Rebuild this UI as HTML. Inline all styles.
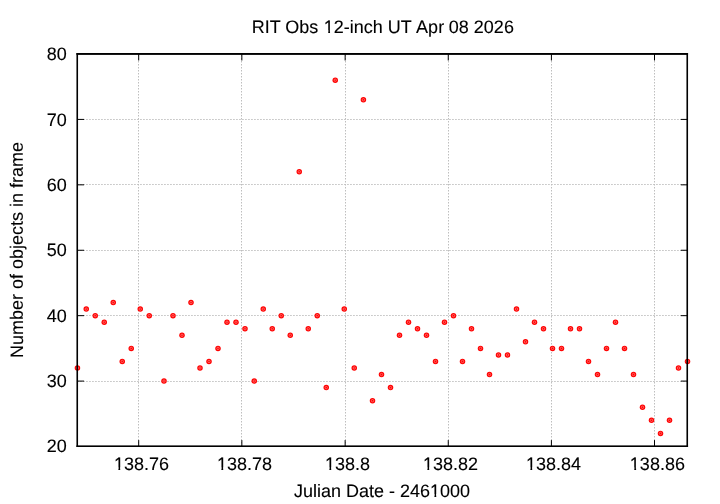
<!DOCTYPE html>
<html><head><meta charset="utf-8"><title>plot</title>
<style>html,body{margin:0;padding:0;background:#fff;}svg{display:block;will-change:transform;}text{font-family:"Liberation Sans",sans-serif;fill:#000;}</style></head><body>
<svg width="720" height="504" viewBox="0 0 720 504">
<rect x="0" y="0" width="720" height="504" fill="#fff"/>
<g stroke="#bebebe" stroke-width="1" stroke-dasharray="1.5 1.5" fill="none">
<line x1="138.50" y1="446.5" x2="138.50" y2="54.00"/>
<line x1="241.50" y1="446.5" x2="241.50" y2="54.00"/>
<line x1="345.50" y1="446.5" x2="345.50" y2="54.00"/>
<line x1="448.50" y1="446.5" x2="448.50" y2="54.00"/>
<line x1="551.50" y1="446.5" x2="551.50" y2="54.00"/>
<line x1="654.50" y1="446.5" x2="654.50" y2="54.00"/>
<line x1="77.2" y1="381.50" x2="687.25" y2="381.50"/>
<line x1="77.2" y1="315.50" x2="687.25" y2="315.50"/>
<line x1="77.2" y1="250.50" x2="687.25" y2="250.50"/>
<line x1="77.2" y1="184.50" x2="687.25" y2="184.50"/>
<line x1="77.2" y1="119.50" x2="687.25" y2="119.50"/>
</g>
<g fill="#ff0000">
<circle cx="77.45" cy="368.00" r="2.75"/>
<circle cx="86.25" cy="309.12" r="2.75"/>
<circle cx="95.25" cy="315.67" r="2.75"/>
<circle cx="104.25" cy="322.21" r="2.75"/>
<circle cx="113.25" cy="302.58" r="2.75"/>
<circle cx="122.25" cy="361.46" r="2.75"/>
<circle cx="131.25" cy="348.38" r="2.75"/>
<circle cx="140.25" cy="309.12" r="2.75"/>
<circle cx="149.25" cy="315.67" r="2.75"/>
<circle cx="164.00" cy="381.08" r="2.75"/>
<circle cx="173.00" cy="315.67" r="2.75"/>
<circle cx="182.00" cy="335.29" r="2.75"/>
<circle cx="191.00" cy="302.58" r="2.75"/>
<circle cx="200.00" cy="368.00" r="2.75"/>
<circle cx="209.00" cy="361.46" r="2.75"/>
<circle cx="218.00" cy="348.38" r="2.75"/>
<circle cx="227.00" cy="322.21" r="2.75"/>
<circle cx="236.00" cy="322.21" r="2.75"/>
<circle cx="245.00" cy="328.75" r="2.75"/>
<circle cx="254.25" cy="381.08" r="2.75"/>
<circle cx="263.25" cy="309.12" r="2.75"/>
<circle cx="272.25" cy="328.75" r="2.75"/>
<circle cx="281.25" cy="315.67" r="2.75"/>
<circle cx="290.25" cy="335.29" r="2.75"/>
<circle cx="299.25" cy="171.75" r="2.75"/>
<circle cx="308.25" cy="328.75" r="2.75"/>
<circle cx="317.25" cy="315.67" r="2.75"/>
<circle cx="326.25" cy="387.62" r="2.75"/>
<circle cx="335.25" cy="80.17" r="2.75"/>
<circle cx="344.25" cy="309.12" r="2.75"/>
<circle cx="354.25" cy="368.00" r="2.75"/>
<circle cx="363.40" cy="99.79" r="2.75"/>
<circle cx="372.50" cy="400.71" r="2.75"/>
<circle cx="381.50" cy="374.54" r="2.75"/>
<circle cx="390.50" cy="387.62" r="2.75"/>
<circle cx="399.50" cy="335.29" r="2.75"/>
<circle cx="408.50" cy="322.21" r="2.75"/>
<circle cx="417.50" cy="328.75" r="2.75"/>
<circle cx="426.50" cy="335.29" r="2.75"/>
<circle cx="435.50" cy="361.46" r="2.75"/>
<circle cx="444.50" cy="322.21" r="2.75"/>
<circle cx="453.50" cy="315.67" r="2.75"/>
<circle cx="462.50" cy="361.46" r="2.75"/>
<circle cx="471.50" cy="328.75" r="2.75"/>
<circle cx="480.50" cy="348.38" r="2.75"/>
<circle cx="489.50" cy="374.54" r="2.75"/>
<circle cx="498.50" cy="354.92" r="2.75"/>
<circle cx="507.50" cy="354.92" r="2.75"/>
<circle cx="516.50" cy="309.12" r="2.75"/>
<circle cx="525.50" cy="341.83" r="2.75"/>
<circle cx="534.50" cy="322.21" r="2.75"/>
<circle cx="543.50" cy="328.75" r="2.75"/>
<circle cx="552.50" cy="348.38" r="2.75"/>
<circle cx="561.50" cy="348.38" r="2.75"/>
<circle cx="570.50" cy="328.75" r="2.75"/>
<circle cx="579.50" cy="328.75" r="2.75"/>
<circle cx="588.50" cy="361.46" r="2.75"/>
<circle cx="597.50" cy="374.54" r="2.75"/>
<circle cx="606.50" cy="348.38" r="2.75"/>
<circle cx="615.50" cy="322.21" r="2.75"/>
<circle cx="624.50" cy="348.38" r="2.75"/>
<circle cx="633.50" cy="374.54" r="2.75"/>
<circle cx="642.50" cy="407.25" r="2.75"/>
<circle cx="651.50" cy="420.33" r="2.75"/>
<circle cx="660.50" cy="433.42" r="2.75"/>
<circle cx="669.50" cy="420.33" r="2.75"/>
<circle cx="678.50" cy="368.00" r="2.75"/>
<circle cx="687.50" cy="361.46" r="2.75"/>
</g>
<g fill="none" stroke="#ff9696" stroke-width="0.6">
<circle cx="77.45" cy="368.00" r="1.2"/>
<circle cx="86.25" cy="309.12" r="1.2"/>
<circle cx="95.25" cy="315.67" r="1.2"/>
<circle cx="104.25" cy="322.21" r="1.2"/>
<circle cx="113.25" cy="302.58" r="1.2"/>
<circle cx="122.25" cy="361.46" r="1.2"/>
<circle cx="131.25" cy="348.38" r="1.2"/>
<circle cx="140.25" cy="309.12" r="1.2"/>
<circle cx="149.25" cy="315.67" r="1.2"/>
<circle cx="164.00" cy="381.08" r="1.2"/>
<circle cx="173.00" cy="315.67" r="1.2"/>
<circle cx="182.00" cy="335.29" r="1.2"/>
<circle cx="191.00" cy="302.58" r="1.2"/>
<circle cx="200.00" cy="368.00" r="1.2"/>
<circle cx="209.00" cy="361.46" r="1.2"/>
<circle cx="218.00" cy="348.38" r="1.2"/>
<circle cx="227.00" cy="322.21" r="1.2"/>
<circle cx="236.00" cy="322.21" r="1.2"/>
<circle cx="245.00" cy="328.75" r="1.2"/>
<circle cx="254.25" cy="381.08" r="1.2"/>
<circle cx="263.25" cy="309.12" r="1.2"/>
<circle cx="272.25" cy="328.75" r="1.2"/>
<circle cx="281.25" cy="315.67" r="1.2"/>
<circle cx="290.25" cy="335.29" r="1.2"/>
<circle cx="299.25" cy="171.75" r="1.2"/>
<circle cx="308.25" cy="328.75" r="1.2"/>
<circle cx="317.25" cy="315.67" r="1.2"/>
<circle cx="326.25" cy="387.62" r="1.2"/>
<circle cx="335.25" cy="80.17" r="1.2"/>
<circle cx="344.25" cy="309.12" r="1.2"/>
<circle cx="354.25" cy="368.00" r="1.2"/>
<circle cx="363.40" cy="99.79" r="1.2"/>
<circle cx="372.50" cy="400.71" r="1.2"/>
<circle cx="381.50" cy="374.54" r="1.2"/>
<circle cx="390.50" cy="387.62" r="1.2"/>
<circle cx="399.50" cy="335.29" r="1.2"/>
<circle cx="408.50" cy="322.21" r="1.2"/>
<circle cx="417.50" cy="328.75" r="1.2"/>
<circle cx="426.50" cy="335.29" r="1.2"/>
<circle cx="435.50" cy="361.46" r="1.2"/>
<circle cx="444.50" cy="322.21" r="1.2"/>
<circle cx="453.50" cy="315.67" r="1.2"/>
<circle cx="462.50" cy="361.46" r="1.2"/>
<circle cx="471.50" cy="328.75" r="1.2"/>
<circle cx="480.50" cy="348.38" r="1.2"/>
<circle cx="489.50" cy="374.54" r="1.2"/>
<circle cx="498.50" cy="354.92" r="1.2"/>
<circle cx="507.50" cy="354.92" r="1.2"/>
<circle cx="516.50" cy="309.12" r="1.2"/>
<circle cx="525.50" cy="341.83" r="1.2"/>
<circle cx="534.50" cy="322.21" r="1.2"/>
<circle cx="543.50" cy="328.75" r="1.2"/>
<circle cx="552.50" cy="348.38" r="1.2"/>
<circle cx="561.50" cy="348.38" r="1.2"/>
<circle cx="570.50" cy="328.75" r="1.2"/>
<circle cx="579.50" cy="328.75" r="1.2"/>
<circle cx="588.50" cy="361.46" r="1.2"/>
<circle cx="597.50" cy="374.54" r="1.2"/>
<circle cx="606.50" cy="348.38" r="1.2"/>
<circle cx="615.50" cy="322.21" r="1.2"/>
<circle cx="624.50" cy="348.38" r="1.2"/>
<circle cx="633.50" cy="374.54" r="1.2"/>
<circle cx="642.50" cy="407.25" r="1.2"/>
<circle cx="651.50" cy="420.33" r="1.2"/>
<circle cx="660.50" cy="433.42" r="1.2"/>
<circle cx="669.50" cy="420.33" r="1.2"/>
<circle cx="678.50" cy="368.00" r="1.2"/>
<circle cx="687.50" cy="361.46" r="1.2"/>
</g>
<g stroke="#000" stroke-width="1" fill="none">
<line x1="138.70" y1="446.20" x2="138.70" y2="440.10"/>
<line x1="138.70" y1="54.00" x2="138.70" y2="60.5"/>
<line x1="241.85" y1="446.20" x2="241.85" y2="440.10"/>
<line x1="241.85" y1="54.00" x2="241.85" y2="60.5"/>
<line x1="345.15" y1="446.20" x2="345.15" y2="440.10"/>
<line x1="345.15" y1="54.00" x2="345.15" y2="60.5"/>
<line x1="448.25" y1="446.20" x2="448.25" y2="440.10"/>
<line x1="448.25" y1="54.00" x2="448.25" y2="60.5"/>
<line x1="551.40" y1="446.20" x2="551.40" y2="440.10"/>
<line x1="551.40" y1="54.00" x2="551.40" y2="60.5"/>
<line x1="654.50" y1="446.20" x2="654.50" y2="440.10"/>
<line x1="654.50" y1="54.00" x2="654.50" y2="60.5"/>
<line x1="77.25" y1="381.08" x2="84.10" y2="381.08"/>
<line x1="687.25" y1="381.08" x2="680.80" y2="381.08"/>
<line x1="77.25" y1="315.67" x2="84.10" y2="315.67"/>
<line x1="687.25" y1="315.67" x2="680.80" y2="315.67"/>
<line x1="77.25" y1="250.25" x2="84.10" y2="250.25"/>
<line x1="687.25" y1="250.25" x2="680.80" y2="250.25"/>
<line x1="77.25" y1="184.83" x2="84.10" y2="184.83"/>
<line x1="687.25" y1="184.83" x2="680.80" y2="184.83"/>
<line x1="77.25" y1="119.42" x2="84.10" y2="119.42"/>
<line x1="687.25" y1="119.42" x2="680.80" y2="119.42"/>
</g>
<g fill="#000">
<rect x="76.45" y="53.0" width="611.6" height="1.9"/>
<rect x="76.45" y="445.4" width="611.6" height="1.6"/>
<rect x="76.45" y="53.0" width="1.6" height="394.0"/>
<rect x="686.45" y="53.0" width="1.6" height="394.0"/>
</g>
<g transform="matrix(0.1,0,0.0001,0.1,0,0)" font-size="180px" stroke="#000" stroke-width="1.0" stroke-linejoin="round">
<text y="327.0" text-anchor="start"><tspan x="2517.0">RIT </tspan><tspan x="2851.5">Obs </tspan><tspan x="3237.7">12-inch </tspan><tspan x="3876.2">UT </tspan><tspan x="4160.9">Apr </tspan><tspan x="4488.0">08 </tspan><tspan x="4738.2">2026</tspan></text>
<text x="3815.0" y="4967.0" text-anchor="middle">Julian Date - 2461000</text>
<text transform="translate(225.5,2500.0) rotate(-90)" text-anchor="middle">Number of objects in frame</text>
<text x="1410.3" y="4700.0" text-anchor="middle">138.76</text>
<text x="2440.3" y="4700.0" text-anchor="middle">138.78</text>
<text x="3470.3" y="4700.0" text-anchor="middle">138.8</text>
<text x="4500.3" y="4700.0" text-anchor="middle">138.82</text>
<text x="5530.3" y="4700.0" text-anchor="middle">138.84</text>
<text x="6569.3" y="4700.0" text-anchor="middle">138.86</text>
<text x="662.5" y="4519.5" text-anchor="end">20</text>
<text x="663.1" y="3869.5" text-anchor="end">30</text>
<text x="663.8" y="3219.5" text-anchor="end">40</text>
<text x="664.4" y="2559.5" text-anchor="end">50</text>
<text x="665.1" y="1909.5" text-anchor="end">60</text>
<text x="665.7" y="1259.5" text-anchor="end">70</text>
<text x="666.4" y="599.5" text-anchor="end">80</text>
</g>
<g fill="#fff">
<rect x="324.50" y="30.10" width="3.72" height="3.3"/>
<rect x="330.03" y="30.10" width="3.87" height="3.3"/>
<rect x="430.71" y="494.10" width="3.72" height="3.3"/>
<rect x="436.24" y="494.10" width="3.87" height="3.3"/>
<rect x="114.67" y="467.40" width="3.72" height="3.3"/>
<rect x="120.20" y="467.40" width="3.87" height="3.3"/>
<rect x="217.67" y="467.40" width="3.72" height="3.3"/>
<rect x="223.20" y="467.40" width="3.87" height="3.3"/>
<rect x="325.68" y="467.40" width="3.72" height="3.3"/>
<rect x="331.21" y="467.40" width="3.87" height="3.3"/>
<rect x="423.67" y="467.40" width="3.72" height="3.3"/>
<rect x="429.20" y="467.40" width="3.87" height="3.3"/>
<rect x="526.67" y="467.40" width="3.72" height="3.3"/>
<rect x="532.20" y="467.40" width="3.87" height="3.3"/>
<rect x="630.57" y="467.40" width="3.72" height="3.3"/>
<rect x="636.10" y="467.40" width="3.87" height="3.3"/>
</g>
</svg></body></html>
